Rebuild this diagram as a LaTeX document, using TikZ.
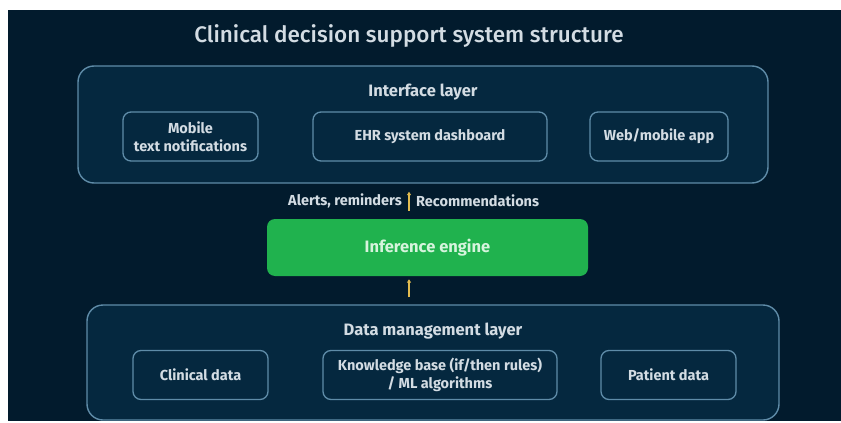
\documentclass[tikz,border=0pt]{standalone}
\usepackage{fontspec}
\setmainfont{Fira Sans}
\newfontfamily\titlefont{Fira Sans Medium}
\usetikzlibrary{arrows.meta}

\definecolor{bgdark}{HTML}{021B2D}
\definecolor{boxfill}{HTML}{05283F}
\definecolor{boxline}{HTML}{5F8CA8}
\definecolor{txtgrey}{HTML}{D3DCE3}
\definecolor{enginegreen}{HTML}{20B24E}
\definecolor{enginetxt}{HTML}{D6F4DD}
\definecolor{arrowgold}{HTML}{E2BC50}

\begin{document}
\begin{tikzpicture}[x=1pt,y=-1pt,
            layerbox/.style={draw=boxline,fill=boxfill,line width=1.4pt,rounded corners=16pt,inner sep=0pt},
            itembox/.style={draw=boxline,fill=boxfill,line width=1.3pt,rounded corners=8pt,text=txtgrey,
                             font=\bfseries\fontsize{14.5}{18}\selectfont,align=center,inner sep=0pt,minimum height=49pt},
            layertitle/.style={text=txtgrey,font=\bfseries\fontsize{16.5}{20}\selectfont},
            flowlabel/.style={text=txtgrey,font=\bfseries\fontsize{14.5}{17}\selectfont,inner sep=0pt},
            flowarrow/.style={arrowgold,line width=1.3pt,arrows = -{Triangle[angle=60:4pt,fill=arrowgold]}}]

            %\draw [help lines] (0,0) grid (841,423);

            \useasboundingbox (0,0) rectangle (841,423);
            \fill[bgdark] (8,10) rectangle (841,421);

            \path   (409,36) node (title) [text=txtgrey,font=\titlefont\fontsize{22.5}{26}\selectfont] {Clinical decision support system structure};

            % interface layer
            \path   (423,124.5) node (iface) [layerbox,minimum width=690pt,minimum height=117pt] {}
                    (423,92)    node (ifacettl) [layertitle] {Interface layer}
                    (190.5,136.5) node (mobile) [itembox,minimum width=135pt] {Mobile\\text notifications}
                    (430,136.5) node (ehr) [itembox,minimum width=234pt] {EHR system dashboard}
                    (659,136.5) node (webapp) [itembox,minimum width=138pt] {Web/mobile app};

            % inference engine
            \path   (427.5,247.5) node (engine) [fill=enginegreen,rounded corners=8pt,minimum width=321pt,minimum height=57pt,
                                                  text=enginetxt,font=\bfseries\fontsize{16.5}{20}\selectfont] {Inference engine}
                    (409,201)   coordinate (axis)
                    (402,201)   node (alerts) [flowlabel,anchor=east] {Alerts, reminders}
                    (416,201)   node (recomm) [flowlabel,anchor=west] {Recommendations};

            % data management layer
            \path   (433,362.5) node (data) [layerbox,minimum width=692pt,minimum height=115pt] {}
                    (433,331)   node (datattl) [layertitle] {Data management layer}
                    (200.5,375) node (clinical) [itembox,minimum width=135pt] {Clinical data}
                    (440,375)   node (knowledge) [itembox,minimum width=234pt] {Knowledge base (if/then rules)\\/ ML algorithms}
                    (668.5,375) node (patient) [itembox,minimum width=135pt] {Patient data};

            \draw[flowarrow,shorten <=8pt,shorten >=8pt] (engine.north -| axis) -- (iface.south -| axis);
            \draw[flowarrow,shorten <=7pt,shorten >=3pt] (data.north -| axis) -- (engine.south -| axis);
        \end{tikzpicture}
\end{document}
